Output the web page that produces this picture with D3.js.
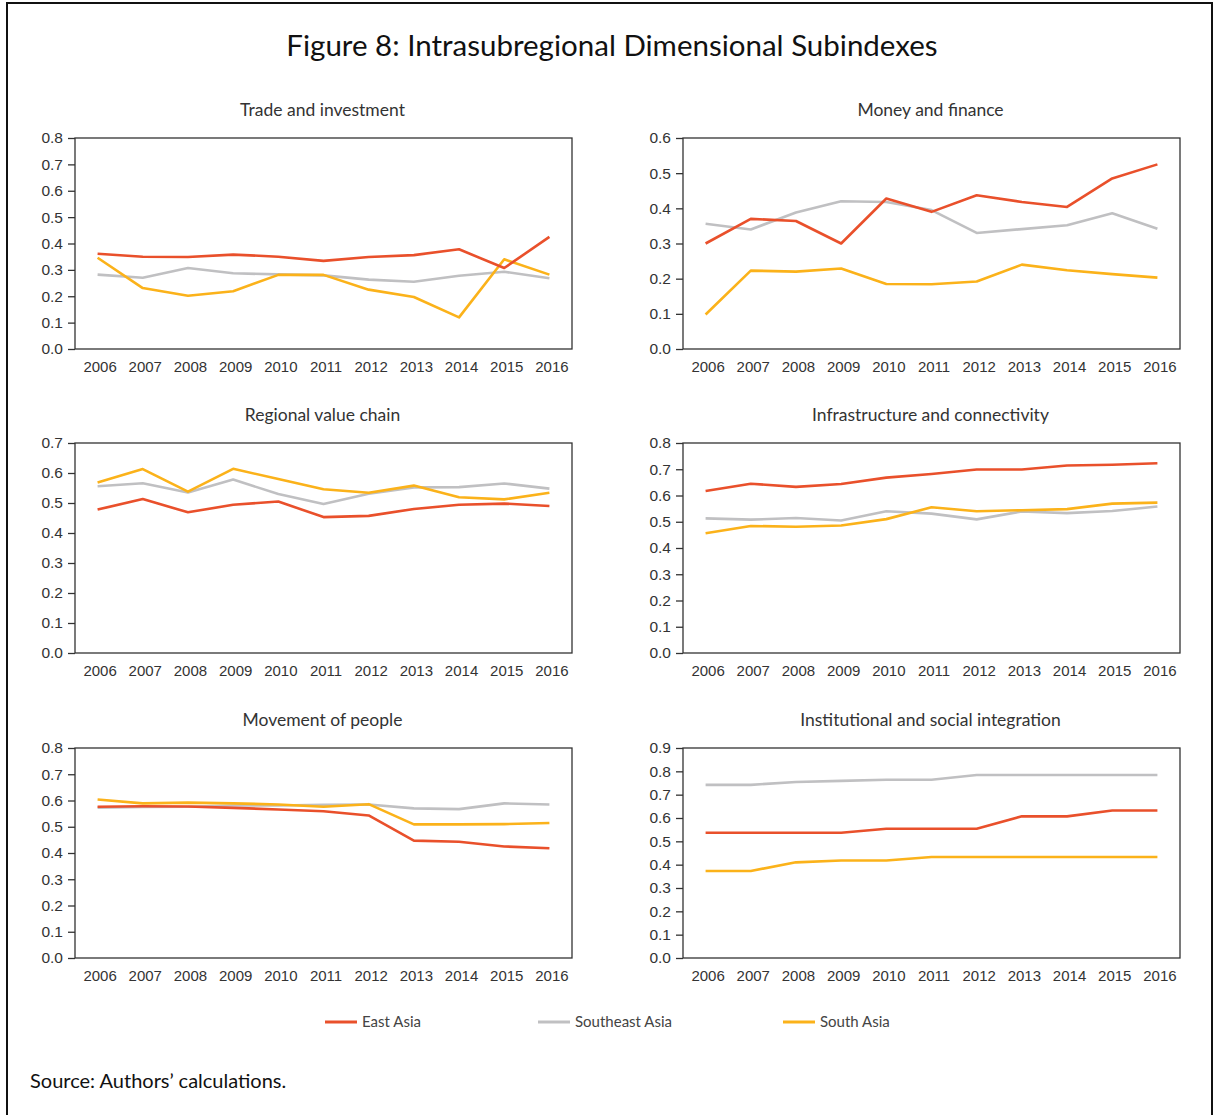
<!DOCTYPE html>
<html>
<head>
<meta charset="utf-8">
<script src="https://cdn.jsdelivr.net/npm/d3@7"></script>
<style>
  body { margin: 0; background: #fff; }
  svg { font-family: Lato, "Noto Sans", sans-serif; }
</style>
</head>
<body>
<svg id="chart" width="1215" height="1115"></svg>
<script>
// data
var years = ["2006","2007","2008","2009","2010","2011","2012","2013","2014","2015","2016"];
var seriesNames = ["East Asia", "Southeast Asia", "South Asia"];
var seriesColors = ["#e9502b", "#c0c0c2", "#fbb21a"];

var panelTitles = ["Trade and investment", "Money and finance", "Regional value chain",
                   "Infrastructure and connectivity", "Movement of people", "Institutional and social integration"];
var panelMax = [0.8, 0.6, 0.7, 0.8, 0.8, 0.9];

var tradeEast      = [0.361, 0.350, 0.349, 0.358, 0.350, 0.334, 0.349, 0.356, 0.378, 0.307, 0.425];
var tradeSoutheast = [0.282, 0.270, 0.307, 0.287, 0.283, 0.279, 0.263, 0.255, 0.278, 0.293, 0.268];
var tradeSouth     = [0.346, 0.231, 0.202, 0.219, 0.281, 0.281, 0.225, 0.197, 0.120, 0.340, 0.282];

var moneyEast      = [0.300, 0.370, 0.364, 0.300, 0.428, 0.390, 0.437, 0.418, 0.404, 0.485, 0.525];
var moneySoutheast = [0.356, 0.340, 0.388, 0.420, 0.418, 0.395, 0.330, 0.341, 0.352, 0.386, 0.342];
var moneySouth     = [0.098, 0.223, 0.220, 0.229, 0.185, 0.184, 0.192, 0.240, 0.224, 0.213, 0.203];

var chainEast      = [0.478, 0.513, 0.469, 0.494, 0.505, 0.453, 0.457, 0.480, 0.494, 0.498, 0.490];
var chainSoutheast = [0.556, 0.566, 0.535, 0.578, 0.530, 0.497, 0.531, 0.552, 0.553, 0.565, 0.548];
var chainSouth     = [0.568, 0.613, 0.538, 0.614, 0.580, 0.546, 0.534, 0.558, 0.519, 0.512, 0.534];

var infraEast      = [0.617, 0.645, 0.633, 0.644, 0.668, 0.682, 0.699, 0.699, 0.714, 0.717, 0.723];
var infraSoutheast = [0.513, 0.508, 0.514, 0.505, 0.540, 0.531, 0.509, 0.539, 0.533, 0.541, 0.558];
var infraSouth     = [0.456, 0.484, 0.481, 0.486, 0.510, 0.555, 0.540, 0.544, 0.548, 0.569, 0.573];

var peopleEast      = [0.576, 0.578, 0.577, 0.572, 0.566, 0.559, 0.543, 0.447, 0.443, 0.425, 0.418];
var peopleSoutheast = [0.573, 0.575, 0.576, 0.581, 0.581, 0.584, 0.585, 0.570, 0.567, 0.589, 0.585];
var peopleSouth     = [0.604, 0.589, 0.592, 0.589, 0.585, 0.576, 0.586, 0.509, 0.509, 0.510, 0.514];

var instEast      = [0.537, 0.537, 0.537, 0.537, 0.554, 0.554, 0.554, 0.607, 0.607, 0.632, 0.632];
var instSoutheast = [0.742, 0.742, 0.754, 0.759, 0.764, 0.764, 0.784, 0.784, 0.784, 0.784, 0.784];
var instSouth     = [0.373, 0.373, 0.410, 0.418, 0.418, 0.433, 0.433, 0.433, 0.433, 0.433, 0.433];

var panelData = [
  [tradeEast, tradeSoutheast, tradeSouth],
  [moneyEast, moneySoutheast, moneySouth],
  [chainEast, chainSoutheast, chainSouth],
  [infraEast, infraSoutheast, infraSouth],
  [peopleEast, peopleSoutheast, peopleSouth],
  [instEast, instSoutheast, instSouth]
];

var svg = d3.select("#chart");

// outer frame (bottom edge runs off the page)
svg.append("rect")
  .attr("x", 7).attr("y", 3)
  .attr("width", 1205).attr("height", 1140)
  .attr("fill", "none")
  .attr("stroke", "#111")
  .attr("stroke-width", 2);

svg.append("text")
  .attr("x", 612).attr("y", 56)
  .attr("text-anchor", "middle")
  .attr("font-size", 29.5)
  .attr("fill", "#111")
  .text("Figure 8: Intrasubregional Dimensional Subindexes");

var colX = [[75, 572], [683, 1180]];
var rowY = [[138, 349], [443, 653], [748, 958]];

panelData.forEach(function(series, i) {
  var cx = colX[i % 2], ry = rowY[Math.floor(i / 2)];

  var x = d3.scalePoint().domain(years).range(cx).padding(0.5);
  var y = d3.scaleLinear().domain([0, panelMax[i]]).range([ry[1], ry[0]]);

  var g = svg.append("g");

  g.append("text")
    .attr("x", (cx[0] + cx[1]) / 2 - 1)
    .attr("y", ry[0] - 22)
    .attr("text-anchor", "middle")
    .attr("font-size", 17.5)
    .attr("fill", "#333")
    .text(panelTitles[i]);

  g.append("rect")
    .attr("x", cx[0]).attr("y", ry[0])
    .attr("width", cx[1] - cx[0]).attr("height", ry[1] - ry[0])
    .attr("fill", "none")
    .attr("stroke", "#333")
    .attr("stroke-width", 1.3);

  var yAxis = g.append("g")
    .attr("transform", "translate(" + cx[0] + ",0)")
    .call(d3.axisLeft(y).ticks(Math.round(panelMax[i] * 10)).tickFormat(d3.format(".1f")).tickSize(7).tickPadding(5));
  yAxis.select(".domain").remove();
  yAxis.selectAll("line").attr("stroke", "#333").attr("stroke-width", 1.3);
  yAxis.selectAll("text").attr("font-size", 15.5).attr("fill", "#333").attr("font-family", null);

  var xAxis = g.append("g")
    .attr("transform", "translate(2," + ry[1] + ")")
    .call(d3.axisBottom(x).tickSize(0).tickPadding(12));
  xAxis.select(".domain").remove();
  xAxis.selectAll("text").attr("font-size", 15).attr("fill", "#333").attr("font-family", null);

  var line = d3.line()
    .x(function(d, k) { return x(years[k]); })
    .y(function(d) { return y(d); });

  // draw south asia, then southeast, then east on top
  [1, 2, 0].forEach(function(s) {
    g.append("path")
      .attr("d", line(series[s]))
      .attr("fill", "none")
      .attr("stroke", seriesColors[s])
      .attr("stroke-width", 2.6)
      .attr("stroke-linejoin", "round");
  });
});

// legend
var legendX = [325, 538, 783];
var legend = svg.append("g");
seriesNames.forEach(function(name, s) {
  legend.append("line")
    .attr("x1", legendX[s]).attr("x2", legendX[s] + 32)
    .attr("y1", 1022).attr("y2", 1022)
    .attr("stroke", seriesColors[s])
    .attr("stroke-width", 3);
  legend.append("text")
    .attr("x", legendX[s] + 37).attr("y", 1027)
    .attr("font-size", 15)
    .attr("fill", "#444")
    .text(name);
});

svg.append("text")
  .attr("x", 30).attr("y", 1088)
  .attr("font-size", 20)
  .attr("fill", "#111")
  .text("Source: Authors\u2019 calculations.");
</script>
</body>
</html>
